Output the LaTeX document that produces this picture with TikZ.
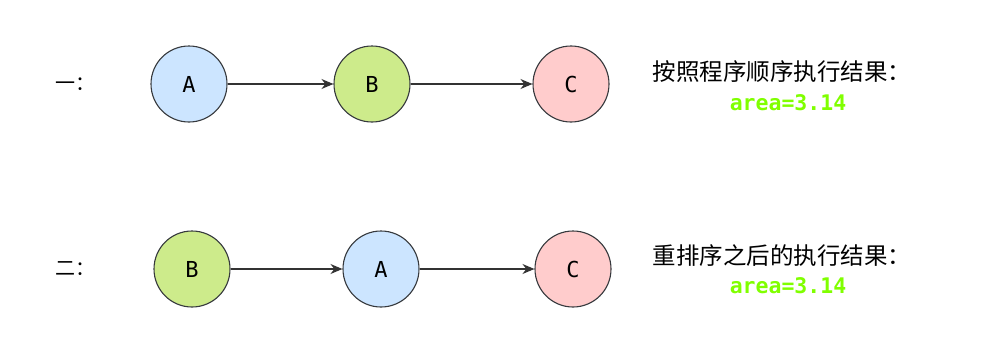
\documentclass[tikz,border=0pt]{standalone}
\usepackage{fontspec}
\newfontfamily\cjk{Noto Sans CJK SC}
\usetikzlibrary{arrows.meta}
\definecolor{cblue}{HTML}{CCE5FF}
\definecolor{cgreen}{HTML}{CDEB8B}
\definecolor{cred}{HTML}{FFCCCC}
\definecolor{cstroke}{HTML}{36393D}
\definecolor{carrow}{HTML}{333333}
\definecolor{cres}{HTML}{80FF00}
\begin{document}
\begin{tikzpicture}[x=1pt,y=-1pt,
  circ/.style={circle,draw=cstroke,line width=1.1pt,minimum size=76pt,inner sep=0pt,
    font=\fontspec{DejaVu Sans Mono}\fontsize{22}{22}\selectfont},
  conn/.style={draw=carrow,line width=1.2pt,-{Stealth[length=12pt,width=10pt]}},
  lbl/.style={font=\cjk\fontsize{23.5}{23.5}\selectfont,inner sep=0pt},
  rowlbl/.style={font=\cjk\fontsize{20}{20}\selectfont,inner sep=0pt},
  res/.style={font=\fontspec{DejaVu Sans Mono Bold}\fontsize{21.5}{21.5}\selectfont,text=cres,inner sep=0pt}]
\useasboundingbox (0,0) rectangle (989,364);
% row 1
\node[rowlbl] (n1) at (76,84) {一：};
\node[circ,fill=cblue] (a1) at (189,84) {A};
\node[circ,fill=cgreen] (b1) at (372,84) {B};
\node[circ,fill=cred] (c1) at (571,84) {C};
\draw[conn] (a1) -- (b1);
\draw[conn] (b1) -- (c1);
\node[lbl] (t1) at (782,72) {按照程序顺序执行结果：};
\node[res] (r1) at (788,103) {area=3.14};
% row 2
\node[rowlbl] (n2) at (76,269) {二：};
\node[circ,fill=cgreen] (b2) at (192,269) {B};
\node[circ,fill=cblue] (a2) at (381,269) {A};
\node[circ,fill=cred] (c2) at (573,269) {C};
\draw[conn] (b2) -- (a2);
\draw[conn] (a2) -- (c2);
\node[lbl] (t2) at (782,256) {重排序之后的执行结果：};
\node[res] (r2) at (788,286) {area=3.14};
\end{tikzpicture}
\end{document}
